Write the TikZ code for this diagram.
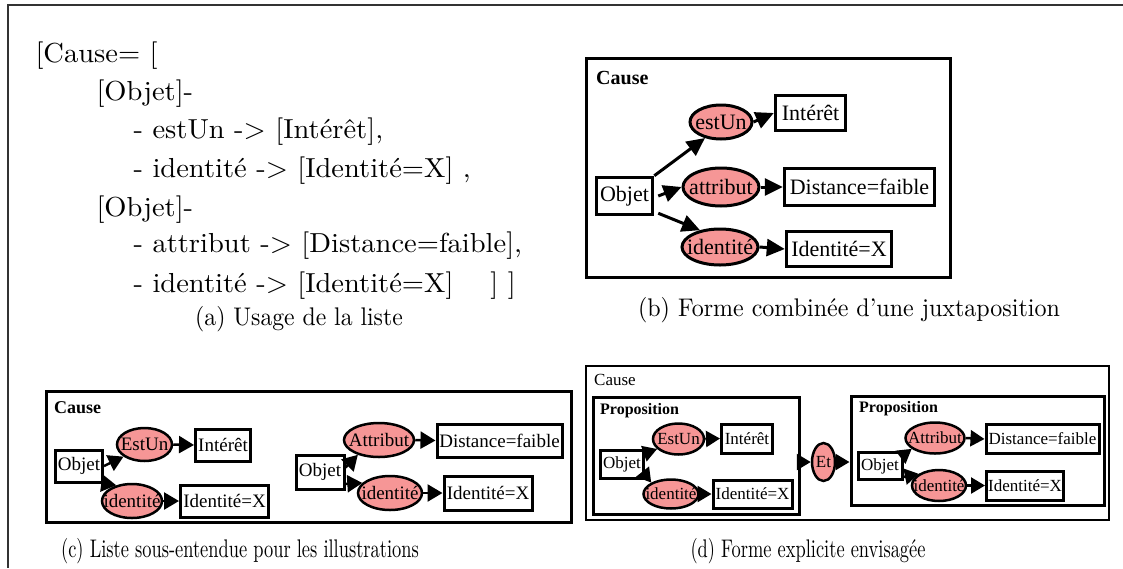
\documentclass[tikz,border=0pt]{standalone}
\usepackage{fontspec}
\newfontfamily\tms{Liberation Serif}
\usetikzlibrary{shapes.geometric,arrows.meta}
\definecolor{salmon}{RGB}{246,150,150}
\newcommand{\fs}[1]{\fontsize{#1}{#1}\selectfont}
\begin{document}
\begin{tikzpicture}[x=1pt,y=-1pt,
  frame/.style={draw, line width=#1, inner sep=0pt},
  cbox/.style={draw, fill=white, line width=#1, inner sep=0pt},
  rel/.style={ellipse, draw, fill=salmon, line width=#1, inner sep=0pt},
  barr/.style={line width=3pt, -{Triangle[length=18pt,width=17pt]}},
  carr/.style={line width=2.5pt, -{Triangle[length=15pt,width=17pt]}},
  darr/.style={line width=2.5pt, -{Triangle[length=14pt,width=16pt]}},
  fb/.style={font=\tms\fs{22}},
  fc/.style={font=\tms\fs{19}},
  fd/.style={font=\tms\fs{17}},
  captxt/.style={font=\fs{10}, anchor=base, inner sep=0pt, xscale=#1, yscale=2.55, transform shape},
  lst/.style={font=\fs{10}, anchor=base west, inner sep=0pt, xscale=2.85, yscale=2.75, transform shape}
]
\useasboundingbox (0,0) rectangle (1123,568);
\draw[line width=1.5pt, black!80] (1123,5) -- (8,5) -- (8,568);

% (a)
\node[lst] (a1) at (35,62) {[Cause= [};
\node[lst] (a2) at (96,100) {[Objet]-};
\node[lst] (a3) at (133,138) {- estUn -> [Intérêt],};
\node[lst] (a4) at (133,177) {- identité -> [Identité=X] ,};
\node[lst] (a5) at (96,216) {[Objet]-};
\node[lst] (a6) at (133,252) {- attribut -> [Distance=faible],};
\node[lst] (a7) at (133,292) {- identité -> [Identité=X]\hspace{13pt}] ]};
\node[captxt=2.37] (capa) at (299,325) {(a) Usage de la liste};

% (b)
\node[frame=3pt, minimum width=364, minimum height=219] (bFrame) at (768.5,168) {};
\node[font=\tms\bfseries\fs{20}, anchor=west, inner sep=0pt] (bCause) at (596,78) {Cause};
\node[cbox=3.5pt, fb, minimum width=56, minimum height=37] (bOb) at (624.5,196) {Objet};
\node[rel=3pt, fb, minimum width=62, minimum height=34] (bEu) at (721,122) {\makebox[0pt]{estUn}};
\node[cbox=3.5pt, fb, minimum width=70, minimum height=35] (bIn) at (810.5,113) {Intérêt};
\node[rel=3pt, fb, minimum width=76, minimum height=38] (bAt) at (721,187) {\makebox[0pt]{attribut}};
\node[cbox=3.5pt, fb, minimum width=150, minimum height=37] (bDf) at (859.5,187) {Distance=faible};
\node[rel=3pt, fb, minimum width=76, minimum height=36] (bId) at (720,247) {\makebox[0pt]{identité}};
\node[cbox=3.5pt, fb, minimum width=105, minimum height=35] (bIx) at (839,249) {Identité=X};
\draw[barr] (bOb.north east) -- (bEu.225);
\draw[barr] ([xshift=4pt]bOb.east) -- (bAt.west);
\draw[barr] ([xshift=4pt,yshift=3pt]bOb.south east) -- (bId.140);
\draw[barr] (bEu.east) -- (bIn.west);
\draw[barr] (bAt.east) -- (bDf.west);
\draw[barr] (bId.east) -- (bIx.west);
\node[captxt=2.4] (capb) at (849,316) {(b) Forme combinée d’une juxtaposition};

% (c)
\node[frame=3pt, minimum width=525, minimum height=131] (cFrame) at (309,457) {};
\node[font=\tms\bfseries\fs{18}, anchor=west, inner sep=0pt] (cCause) at (54,408) {Cause};
\node[cbox=3pt, fc, minimum width=47, minimum height=32] (cOb1) at (79,466) {Objet};
\node[rel=2.5pt, fc, minimum width=55, minimum height=33] (cEu) at (144.5,444.5) {\makebox[0pt]{EstUn}};
\node[cbox=3pt, fc, minimum width=55, minimum height=32] (cIn) at (223,445) {Intérêt};
\node[rel=2.5pt, fc, minimum width=60, minimum height=34] (cId1) at (132,501) {\makebox[0pt]{identité}};
\node[cbox=3pt, fc, minimum width=88, minimum height=32] (cIx1) at (224.5,501) {Identité=X};
\node[cbox=3pt, fc, minimum width=48, minimum height=34] (cOb2) at (320,472) {Objet};
\node[rel=2.5pt, fc, minimum width=70, minimum height=34] (cAt) at (379,440) {\makebox[0pt]{Attribut}};
\node[cbox=3pt, fc, minimum width=125, minimum height=33] (cDf) at (499.5,440.5) {Distance=faible};
\node[rel=2.5pt, fc, minimum width=64, minimum height=34] (cId2) at (390,493) {\makebox[0pt]{identité}};
\node[cbox=3pt, fc, minimum width=88, minimum height=34] (cIx2) at (488,493) {Identité=X};
\draw[carr] (cOb1.east) -- (cEu.210);
\draw[carr] (cOb1.-35) -- (cId1.135);
\draw[carr] (cEu.east) -- (cIn.west);
\draw[carr] (cId1.east) -- (cIx1.west);
\draw[carr] (cOb2.10) -- (cAt.215);
\draw[carr] (cOb2.-25) -- (cId2.160);
\draw[carr] (cAt.east) -- (cDf.west);
\draw[carr] (cId2.east) -- (cIx2.west);
\node[captxt=1.84] (capc) at (240,557) {(c) Liste sous-entendue pour les illustrations};

% (d)
\node[frame=2pt, minimum width=523, minimum height=154] (dFrame) at (847.5,443) {};
\node[font=\tms\fs{17}, anchor=west, inner sep=0pt] (dCause) at (594,380) {Cause};
\node[frame=3pt, minimum width=206, minimum height=117] (dP1) at (696.5,455.5) {};
\node[font=\tms\bfseries\fs{16}, anchor=west, inner sep=0pt] (dProp1) at (600,411) {Proposition};
\node[cbox=3pt, fd, minimum width=43, minimum height=28] (dOb1) at (622,464) {Objet};
\node[rel=2.5pt, fd, minimum width=51, minimum height=31] (dEu) at (678.5,439) {\makebox[0pt]{EstUn}};
\node[cbox=3pt, fd, minimum width=51, minimum height=29] (dIn) at (747,438.5) {Intérêt};
\node[rel=2.5pt, fd, minimum width=55, minimum height=29] (dId1) at (671,494) {\makebox[0pt]{identité}};
\node[cbox=3pt, fd, minimum width=79, minimum height=28] (dIx1) at (752.5,494) {Identité=X};
\node[rel=2.5pt, fd, minimum width=23, minimum height=38] (dEt) at (823.5,462) {\makebox[0pt]{Et}};
\node[frame=3pt, minimum width=253, minimum height=109] (dP2) at (977.5,450.5) {};
\node[font=\tms\bfseries\fs{16}, anchor=west, inner sep=0pt] (dProp2) at (859,409) {Proposition};
\node[cbox=3pt, fd, minimum width=44, minimum height=27] (dOb2) at (880,466) {Objet};
\node[rel=2.5pt, fd, minimum width=59, minimum height=31] (dAt) at (935,438) {\makebox[0pt]{Attribut}};
\node[cbox=3pt, fd, minimum width=113, minimum height=29] (dDf) at (1042.5,439) {Distance=faible};
\node[rel=2.5pt, fd, minimum width=54, minimum height=31] (dId2) at (939,485.5) {\makebox[0pt]{identité}};
\node[cbox=3pt, fd, minimum width=77, minimum height=29] (dIx2) at (1025,485.5) {Identité=X};
\draw[darr] (dOb1.25) -- (dEu.205);
\draw[darr] (dOb1.-25) -- (dId1.150);
\draw[darr] (dEu.east) -- (dIn.west);
\draw[darr] (dId1.east) -- (dIx1.west);
\draw[darr] (dP1.east |- dEt.west) -- (dEt.west);
\draw[darr] (dEt.east) -- (dEt.east -| dP2.west);
\draw[darr] (dOb2.25) -- (dAt.205);
\draw[darr] (dOb2.-25) -- (dId2.150);
\draw[darr] (dAt.east) -- (dDf.west);
\draw[darr] (dId2.east) -- (dIx2.west);
\node[captxt=1.84] (capd) at (808,557) {(d) Forme explicite envisagée};
\end{tikzpicture}
\end{document}
